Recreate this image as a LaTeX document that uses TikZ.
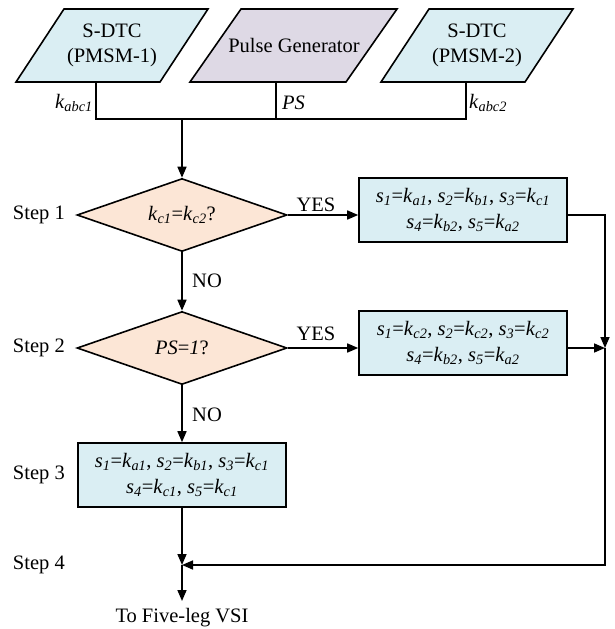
\documentclass[tikz,border=0pt]{standalone}
\usepackage{fontspec}
\setmainfont{Liberation Serif}
\usetikzlibrary{shapes.geometric,arrows.meta}
\definecolor{boxblue}{HTML}{DAEEF3}
\definecolor{genpurple}{HTML}{DED9E5}
\definecolor{testpeach}{HTML}{FCE6D6}
% italic symbol with italic subscript
\newcommand\vsub[2]{\textit{#1}\textsubscript{\textit{#2}}}

\begin{document}
\begin{tikzpicture}[x=1pt,y=-1pt,
  every node/.style={font=\fontsize{20.5}{25.5}\selectfont},
  flowline/.style={line width=1.6pt},
  arrowline/.style={flowline,-{Triangle[length=11pt,width=9pt]}},
  inputshape/.style={draw,line width=1.6pt,line join=miter},
  decision/.style={diamond,draw,line width=1.6pt,fill=testpeach,aspect=2.87,
    minimum width=210pt,minimum height=73pt,inner sep=0pt},
  action/.style={rectangle,draw,line width=1.6pt,fill=boxblue,align=center,
    minimum width=208pt,minimum height=64pt,inner sep=0pt},
  steplabel/.style={anchor=east,inner sep=1pt}]
\useasboundingbox (0,0) rectangle (614,629);

% input blocks (parallelograms)
\draw[inputshape,fill=boxblue]   (16,82) -- (160,82) -- (208,9) -- (64,9) -- cycle;
\draw[inputshape,fill=genpurple] (190,82) -- (346,82) -- (397,9) -- (241,9) -- cycle;
\draw[inputshape,fill=boxblue]   (381,82) -- (525,82) -- (573,9) -- (429,9) -- cycle;
\node[align=center] (src1) at (112,45.5) {S-DTC\\(PMSM-1)};
\node (gen) at (294,45.5) {Pulse Generator};
\node[align=center] (src2) at (477,45.5) {S-DTC\\(PMSM-2)};

\coordinate (src1out) at (96,82);
\coordinate (genout) at (276,82);
\coordinate (src2out) at (466,82);
\coordinate (bus) at (182,119);

% signal bus
\draw[flowline] (src1out) -- (src1out |- bus) -- (src2out |- bus) -- (src2out);
\draw[flowline] (genout) -- (genout |- bus);
\node[anchor=base east,inner sep=1pt] (lk1) at (94,108) {\vsub{k}{abc1}};
\node[anchor=base west,inner sep=1pt] (lps) at (281,109) {\textit{PS}};
\node[anchor=base west,inner sep=1pt] (lk2) at (468,108) {\vsub{k}{abc2}};

% decisions and actions
\node[decision] (d1) at (182,215) {\vsub{k}{c1}=\vsub{k}{c2}?};
\node[decision] (d2) at (182,348) {\textit{PS}=\textit{1}?};
\node[action] (a1) at (463,210)
  {\vsub{s}{1}=\vsub{k}{a1}, \vsub{s}{2}=\vsub{k}{b1}, \vsub{s}{3}=\vsub{k}{c1}\\
   \vsub{s}{4}=\vsub{k}{b2}, \vsub{s}{5}=\vsub{k}{a2}};
\node[action] (a2) at (463,343)
  {\vsub{s}{1}=\vsub{k}{c2}, \vsub{s}{2}=\vsub{k}{c2}, \vsub{s}{3}=\vsub{k}{c2}\\
   \vsub{s}{4}=\vsub{k}{b2}, \vsub{s}{5}=\vsub{k}{a2}};
\node[action] (a3) at (182,475)
  {\vsub{s}{1}=\vsub{k}{a1}, \vsub{s}{2}=\vsub{k}{b1}, \vsub{s}{3}=\vsub{k}{c1}\\
   \vsub{s}{4}=\vsub{k}{c1}, \vsub{s}{5}=\vsub{k}{c1}};

% step labels
\node[steplabel] (st1) at (66,215) {Step 1};
\node[steplabel] (st2) at (66,348) {Step 2};
\node[steplabel] (st3) at (66,475) {Step 3};
\node[steplabel] (st4) at (66,565) {Step 4};

% junctions
\coordinate (j2) at (605,348);
\coordinate (j4) at (182,565);
\coordinate (vsi) at (182,601);

% connectors
\draw[arrowline] (bus) -- (d1.north);
\draw[arrowline] (d1.east) -- (d1.east -| a1.west);
\node[anchor=base] (yes1) at (316,211) {YES};
\draw[arrowline] (d1.south) -- (d2.north);
\node[anchor=west,inner sep=1pt] (no1) at (191,281) {NO};
\draw[arrowline] (d2.east) -- (d2.east -| a2.west);
\node[anchor=base] (yes2) at (316,340) {YES};
\draw[arrowline] (d2.south) -- (a3.north);
\node[anchor=west,inner sep=1pt] (no2) at (191,415) {NO};
\draw[arrowline] (a1.east |- d1.east) -| (j2);
\draw[arrowline] (a2.east |- d2.east) -- (j2);
\draw[arrowline] (j2) |- (j4);
\draw[arrowline] (a3.south) -- (j4);
\draw[arrowline] (j4) -- (vsi);
\node[anchor=base] (out) at (182,622) {To Five-leg VSI};
\end{tikzpicture}
\end{document}
